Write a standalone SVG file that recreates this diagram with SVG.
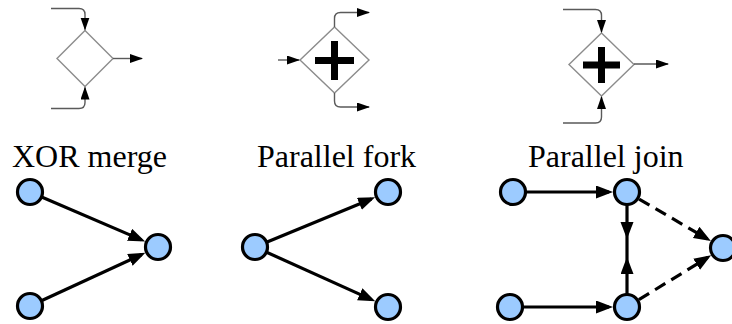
<svg xmlns="http://www.w3.org/2000/svg" width="732" height="324" viewBox="0 0 732 324">
  <style>
    .gw { fill: #ffffff; stroke: #8c8c8c; stroke-width: 1.4; }
    .flow { fill: none; stroke: #5a5a5a; stroke-width: 1.4; }
    .plus { fill: #000000; }
    .lbl { font-family: 'Liberation Serif', 'DejaVu Serif', serif; font-size: 32px; fill: #000000; }
    .edge { fill: none; stroke: #000000; stroke-width: 3.2; }
    .dash { stroke-dasharray: 12 7; }
    .node { fill: #9ccbff; stroke: #000000; stroke-width: 3.2; }
  </style>
  <defs>
    <marker id="tip" markerUnits="userSpaceOnUse" markerWidth="14" markerHeight="10" refX="12" refY="4.5" orient="auto">
      <path d="M0,0 L13,4.5 L0,9 Z" fill="#000000"/>
    </marker>
    <marker id="head" markerUnits="userSpaceOnUse" markerWidth="18" markerHeight="14" refX="13" refY="6.5" orient="auto">
      <path d="M0,0 L17,6.5 L0,13 Z" fill="#000000"/>
    </marker>
  </defs>

  <!-- gateway symbols -->
  <g id="xor-gateway">
    <path class="gw" d="M85,30.5 L113,58.5 L85,86.5 L57,58.5 Z"/>
    <path class="flow" marker-end="url(#tip)" d="M51,8.5 H79 Q85,8.5 85,14.5 V29.5"/>
    <path class="flow" marker-end="url(#tip)" d="M51,108.5 H79 Q85,108.5 85,102.5 V87.5"/>
    <path class="flow" marker-end="url(#tip)" d="M113,58.5 H142"/>
  </g>
  <g id="fork-gateway">
    <path class="gw" d="M334.5,27 L369,60 L334.5,93 L300,60 Z"/>
    <rect class="plus" x="315" y="57" width="39" height="7"/>
    <rect class="plus" x="331" y="41" width="7" height="39"/>
    <path class="flow" marker-end="url(#tip)" d="M278,60 H299"/>
    <path class="flow" marker-end="url(#tip)" d="M334.5,27 V18.5 Q334.5,12.5 340.5,12.5 H369"/>
    <path class="flow" marker-end="url(#tip)" d="M334.5,93 V101 Q334.5,107 340.5,107 H369"/>
  </g>
  <g id="join-gateway">
    <path class="gw" d="M601.5,33 L634,64.5 L601.5,96 L569,64.5 Z"/>
    <rect class="plus" x="583" y="61.5" width="37" height="7"/>
    <rect class="plus" x="598" y="47" width="7" height="36"/>
    <path class="flow" marker-end="url(#tip)" d="M563,9.5 H595.5 Q601.5,9.5 601.5,15.5 V32"/>
    <path class="flow" marker-end="url(#tip)" d="M563,123 H595.5 Q601.5,123 601.5,117 V97"/>
    <path class="flow" marker-end="url(#tip)" d="M634,64 H668"/>
  </g>

  <!-- captions -->
  <g id="captions">
    <text class="lbl" x="12" y="167" font-family="'Liberation Serif', 'DejaVu Serif', serif">XOR merge</text>
    <text class="lbl" x="257" y="167" font-family="'Liberation Serif', 'DejaVu Serif', serif">Parallel fork</text>
    <text class="lbl" x="528" y="167" font-family="'Liberation Serif', 'DejaVu Serif', serif">Parallel join</text>
  </g>

  <!-- graph edges -->
  <g id="connectors">
    <path class="edge" marker-end="url(#head)" d="M30,192 L141.5,239.9"/>
    <path class="edge" marker-end="url(#head)" d="M30,306 L141.7,254.5"/>
    <path class="edge" marker-end="url(#head)" d="M255,247 L371.4,198.9"/>
    <path class="edge" marker-end="url(#head)" d="M255,247 L371.6,299.6"/>
    <path class="edge" marker-end="url(#head)" d="M513,192 L609,192"/>
    <path class="edge" marker-end="url(#head)" d="M510,307 L609,307"/>
    <path class="edge" marker-end="url(#head)" d="M627,192 V235"/>
    <path class="edge" marker-end="url(#head)" d="M627,307 V261"/>
    <path class="edge" d="M627,235 V261"/>
    <path class="edge dash" marker-end="url(#head)" d="M639.1,199.1 L707.4,238.9"/>
    <path class="edge dash" marker-end="url(#head)" d="M638.9,299.7 L707.7,257.4"/>
  </g>

  <!-- graph nodes -->
  <g id="merge-a"><circle class="node" cx="30" cy="192" r="12.5"/></g>
  <g id="merge-b"><circle class="node" cx="30" cy="306" r="12.5"/></g>
  <g id="merge-out"><circle class="node" cx="158" cy="247" r="12.5"/></g>
  <g id="fork-in"><circle class="node" cx="255" cy="247" r="12.5"/></g>
  <g id="fork-a"><circle class="node" cx="388" cy="192" r="12.5"/></g>
  <g id="fork-b"><circle class="node" cx="388" cy="307" r="12.5"/></g>
  <g id="join-a"><circle class="node" cx="513" cy="192" r="12.5"/></g>
  <g id="join-b"><circle class="node" cx="510" cy="307" r="12.5"/></g>
  <g id="join-a2"><circle class="node" cx="627" cy="192" r="12.5"/></g>
  <g id="join-b2"><circle class="node" cx="627" cy="307" r="12.5"/></g>
  <g id="join-out"><circle class="node" cx="723" cy="248" r="12.5"/></g>
</svg>
